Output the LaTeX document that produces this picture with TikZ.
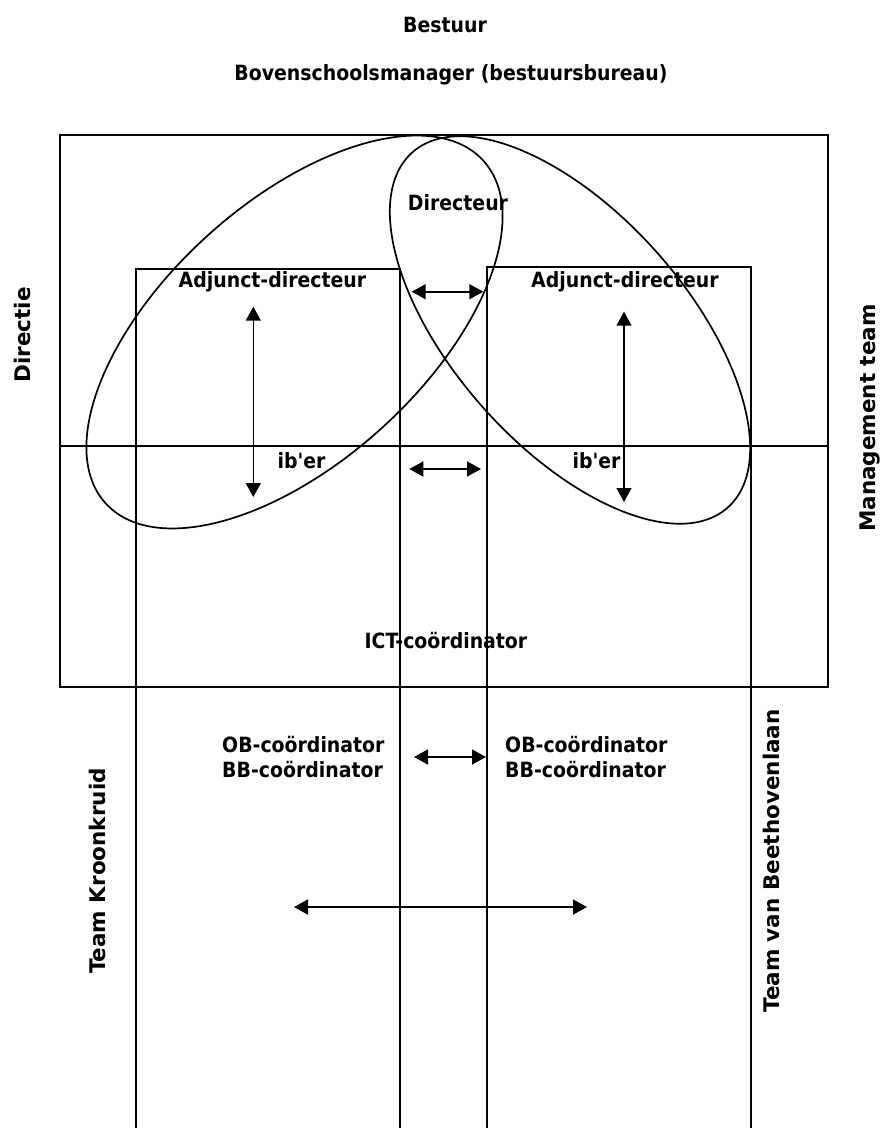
\documentclass[tikz,border=0pt]{standalone}
\usepackage{fontspec}
\newfontfamily\labfont{DejaVu Sans Condensed}
\newfontfamily\vlabfont{DejaVu Sans}
\usetikzlibrary{arrows.meta}
\begin{document}
\begin{tikzpicture}[x=1pt,y=-1pt,
  lab/.style={font=\labfont\bfseries\fontsize{21}{25}\selectfont, inner sep=0pt, anchor=base},
  labw/.style={font=\labfont\bfseries\fontsize{21}{25}\selectfont, inner sep=0pt, anchor=base west},
  vlab/.style={font=\vlabfont\bfseries\fontsize{21.5}{25}\selectfont, inner sep=0pt, rotate=90},
  outerbox/.style={line width=2.2pt},
  innerbox/.style={line width=1.8pt},
  oval/.style={line width=1.7pt},
  dbl/.style={line width=1.6pt, {Triangle[length=14pt,width=15pt]}-{Triangle[length=14pt,width=15pt]}}]
\useasboundingbox (0,0) rectangle (891,1128);

% outer frame and divider
\coordinate (oTL) at (60,135);
\coordinate (oBR) at (828,687);
\draw[outerbox] (oTL) rectangle (oBR);
\coordinate (divL) at (60,446);
\coordinate (divR) at (828,446);
\draw[outerbox] (divL) -- (divR);

% open team columns
\coordinate (lc1) at (136,1128);
\coordinate (lc2) at (136,269);
\coordinate (lc3) at (400,269);
\coordinate (lc4) at (400,1128);
\draw[innerbox] (lc1) -- (lc2) -- (lc3) -- (lc4);
\coordinate (rc1) at (487,1128);
\coordinate (rc2) at (487,267);
\coordinate (rc3) at (751,267);
\coordinate (rc4) at (751,1128);
\draw[innerbox] (rc1) -- (rc2) -- (rc3) -- (rc4);

% ellipses
\coordinate (eL) at (294.5,332);
\coordinate (eR) at (570,330);
\draw[oval, rotate around={42.2:(eL)}] (eL) ellipse [x radius=255pt, y radius=129.8pt];
\draw[oval, rotate around={-48.4:(eR)}] (eR) ellipse [x radius=237.5pt, y radius=116.5pt];

% titles
\node[lab] (bestuur) at (445,32) {Bestuur};
\node[lab] (bsm) at (451,80) {Bovenschoolsmanager (bestuursbureau)};

% labels
\node[lab] (dir) at (458,210.7) {Directeur};
\node[lab] (adjL) at (272.5,287.7) {Adjunct-directeur};
\node[lab] (adjR) at (625,287.7) {Adjunct-directeur};
\node[lab] (ibL) at (301.5,468) {ib'er};
\node[lab] (ibR) at (596.5,468) {ib'er};
\node[lab] (ict) at (446,648) {ICT-coördinator};
\node[labw] (obL) at (222,752) {OB-coördinator};
\node[labw] (bbL) at (222,777) {BB-coördinator};
\node[labw] (obR) at (505,752) {OB-coördinator};
\node[labw] (bbR) at (505,777) {BB-coördinator};

% vertical labels
\node[vlab] (directie) at (22,335) {Directie};
\node[vlab] (mt) at (870,418) {Management team};
\node[vlab] (tk) at (97,871) {Team Kroonkruid};
\node[vlab] (tvb) at (771,861) {Team van Beethovenlaan};

% arrows
\coordinate (vL1) at (253.3,306.7);
\coordinate (vL2) at (253.3,497);
\coordinate (vR1) at (624,311.7);
\coordinate (vR2) at (624,502);
\coordinate (h1a) at (411.7,291.7);
\coordinate (h1b) at (483.3,291.7);
\coordinate (h2a) at (409.3,469);
\coordinate (h2b) at (481,469);
\coordinate (h3a) at (414,757);
\coordinate (h3b) at (486,757);
\coordinate (h4a) at (294,907);
\coordinate (h4b) at (587,907);
\draw[dbl] (vL1) -- (vL2);
\draw[dbl] (vR1) -- (vR2);
\draw[dbl] (h1a) -- (h1b);
\draw[dbl] (h2a) -- (h2b);
\draw[dbl] (h3a) -- (h3b);
\draw[dbl] (h4a) -- (h4b);
\end{tikzpicture}
\end{document}
